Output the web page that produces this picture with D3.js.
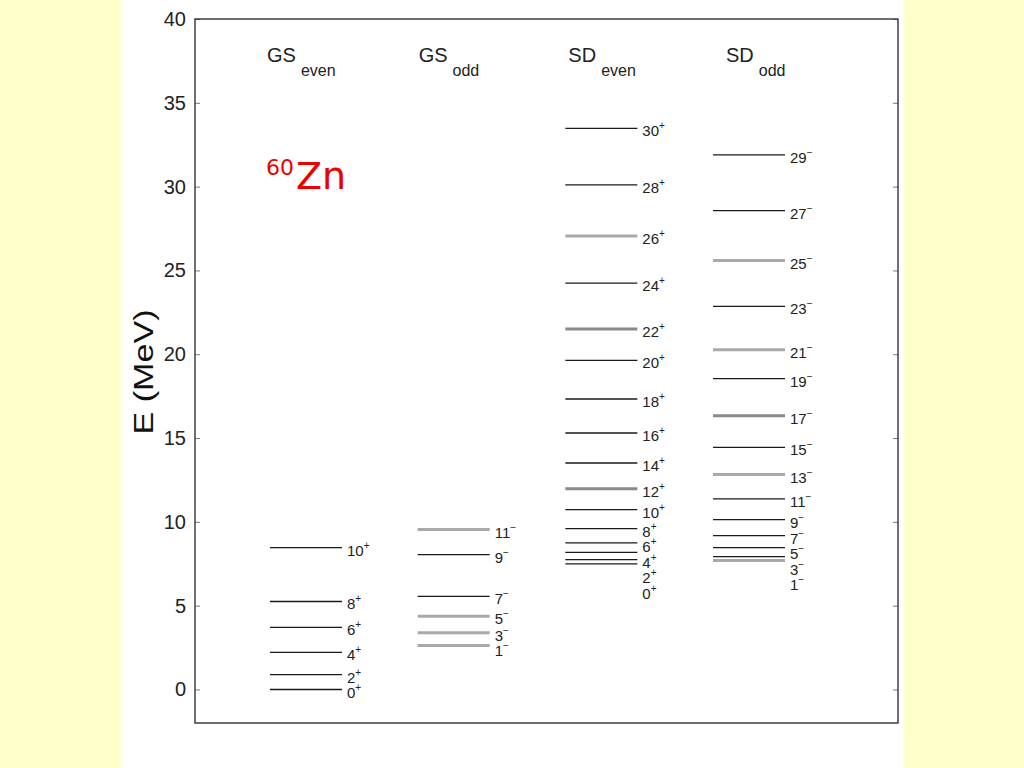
<!DOCTYPE html>
<html><head><meta charset="utf-8">
<script src="https://cdn.jsdelivr.net/npm/d3@7"></script>
<style>html,body{margin:0;padding:0;background:#ffffcc;} svg{display:block;}</style>
</head><body><svg id="c" width="1024" height="768"></svg>
<script>
// ---- data ----
const columns = ["GS_even", "GS_odd", "SD_even", "SD_odd"];
const columnMain = ["GS", "GS", "SD", "SD"];
const columnSub = ["even", "odd", "even", "odd"];

const gsEvenSpin = [0, 2, 4, 6, 8, 10];
const gsEvenE    = [0.00, 0.89, 2.21, 3.70, 5.25, 8.46];
const gsEvenKind = ["k", "k", "k", "k", "k", "k"];

const gsOddSpin = [1, 3, 5, 7, 9, 11];
const gsOddE    = [2.62, 3.38, 4.37, 5.56, 8.05, 9.54];
const gsOddKind = ["g", "g", "g", "k", "k", "g"];

const sdEvenSpin = [0, 2, 4, 6, 8, 10, 12, 14, 16, 18, 20, 22, 24, 26, 28, 30];
const sdEvenE    = [7.49, 7.75, 8.18, 8.75, 9.60, 10.73, 11.98, 13.51, 15.30, 17.33, 19.63, 21.50, 24.24, 27.06, 30.10, 33.48];
const sdEvenKind = ["k","k","k","k","k","k","m","k","k","k","k","m","k","g","k","k"];

const sdOddSpin = [1, 3, 5, 7, 9, 11, 13, 15, 17, 19, 21, 23, 25, 27, 29];
const sdOddE    = [7.69, 7.93, 8.46, 9.18, 10.13, 11.37, 12.82, 14.44, 16.33, 18.54, 20.27, 22.85, 25.59, 28.57, 31.89];
const sdOddKind = ["g","k","k","k","k","k","g","k","m","k","g","k","g","k","k"];

const yTicks = [0, 5, 10, 15, 20, 25, 30, 35, 40];
const yLabel = "E (MeV)";
const nucleusMass = "60";
const nucleusSym = "Zn";

// ---- layout ----
const svg = d3.select("#c");
const W = 1024, H = 768;
const plot = {l: 195, r: 898, t: 19, b: 723};
const headerNudge = [-3, 1, 3, 13];

svg.append("rect").attr("x", 0).attr("y", 0).attr("width", W).attr("height", H).attr("fill", "#ffffcc");
svg.append("rect").attr("x", 121).attr("y", 0).attr("width", 783).attr("height", H).attr("fill", "#ffffff");

const y = d3.scaleLinear().domain([-2, 40]).range([plot.b, plot.t]);
const x = d3.scaleBand().domain(columns).range([270, 785]).paddingInner(0.5125).paddingOuter(0);

const levelSets = [
  {col: "GS_even", spin: gsEvenSpin, E: gsEvenE, kind: gsEvenKind, parity: "+"},
  {col: "GS_odd",  spin: gsOddSpin,  E: gsOddE,  kind: gsOddKind,  parity: "\u2212"},
  {col: "SD_even", spin: sdEvenSpin, E: sdEvenE, kind: sdEvenKind, parity: "+"},
  {col: "SD_odd",  spin: sdOddSpin,  E: sdOddE,  kind: sdOddKind,  parity: "\u2212"}
];

// axes
const ax = svg.append("g").attr("transform", `translate(${plot.l},0)`)
  .call(d3.axisLeft(y).tickValues(yTicks).tickSize(-5).tickPadding(9).tickFormat(d3.format("d")));
ax.select(".domain").remove();
ax.selectAll(".tick line").attr("stroke", "#777");
ax.selectAll(".tick text").attr("font-family", "Liberation Sans, Arial, sans-serif")
  .attr("font-size", 20).attr("fill", "#222");

const axr = svg.append("g").attr("transform", `translate(${plot.r},0)`)
  .call(d3.axisRight(y).tickValues(yTicks).tickSize(-5).tickFormat(""));
axr.select(".domain").remove();
axr.selectAll(".tick line").attr("stroke", "#777");

svg.append("rect").attr("x", plot.l).attr("y", plot.t)
  .attr("width", plot.r - plot.l).attr("height", plot.b - plot.t)
  .attr("fill", "none").attr("stroke", "#333").attr("stroke-width", 1.4);

// y label
svg.append("text")
  .attr("transform", "translate(143,372) rotate(-90)")
  .attr("text-anchor", "middle").attr("dominant-baseline", "central")
  .attr("font-family", "Liberation Sans, Arial, sans-serif").attr("font-size", 28)
  .attr("textLength", 125).attr("lengthAdjust", "spacingAndGlyphs")
  .attr("fill", "#111").text(yLabel);

// column headers
columns.forEach((c, i) => {
  const t = svg.append("text").attr("x", x(c) + headerNudge[i]).attr("y", 62)
    .attr("font-family", "Liberation Sans, Arial, sans-serif").attr("fill", "#222");
  t.append("tspan").attr("font-size", 20).text(columnMain[i]);
  t.append("tspan").attr("font-size", 16).attr("dx", 5).attr("dy", 14).text(columnSub[i]);
});

// nucleus label
const nz = svg.append("text").attr("x", 266).attr("y", 189)
  .attr("font-family", "DejaVu Sans, sans-serif").attr("fill", "#ee0000");
nz.append("tspan").attr("font-size", 22).attr("dy", -14).text(nucleusMass);
nz.append("tspan").attr("font-size", 38).attr("dy", 14).attr("dx", 2).text(nucleusSym);

// levels
const kindColor = {k: "#1a1a1a", g: "#a9a9a9", m: "#8a8a8a"};
const kindWidth = {k: 1.3, g: 3, m: 3};

levelSets.forEach(set => {
  const data = set.E.map((e, i) => ({E: e, spin: set.spin[i], kind: set.kind[i]}));
  const g = svg.append("g");
  const x0 = x(set.col), x1 = x(set.col) + x.bandwidth();
  g.selectAll("line").data(data).enter().append("line")
    .attr("x1", x0).attr("x2", x1)
    .attr("y1", d => y(d.E)).attr("y2", d => y(d.E))
    .attr("stroke", d => kindColor[d.kind])
    .attr("stroke-width", d => kindWidth[d.kind]);
  // label spreading
  const sorted = data.slice().sort((a, b) => b.E - a.E);
  let prev = -Infinity;
  sorted.forEach(d => {
    const ly = Math.max(y(d.E) + 3, prev + 15.5);
    prev = ly;
    d.ly = ly;
  });
  const lab = g.selectAll("text").data(sorted).enter().append("text")
    .attr("x", x1 + 5).attr("y", d => d.ly + 5)
    .attr("font-family", "Liberation Sans, Arial, sans-serif").attr("fill", "#222");
  lab.append("tspan").attr("font-size", 15).text(d => d.spin);
  lab.append("tspan").attr("font-size", 10).attr("dy", -7).text(set.parity);
});
</script>
</body></html>
